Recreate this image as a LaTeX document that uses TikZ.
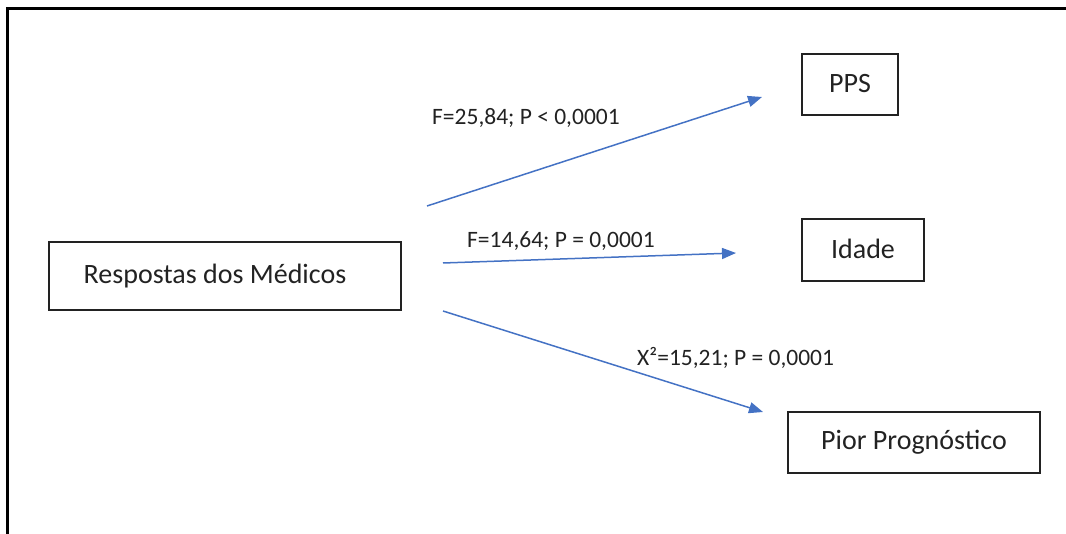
\documentclass[tikz,border=0pt]{standalone}
\usepackage{fontspec}
\setmainfont{Carlito}
\usetikzlibrary{arrows.meta}
\definecolor{arrowblue}{HTML}{4472C4}
\definecolor{inkgray}{HTML}{222222}
\begin{document}
\begin{tikzpicture}[x=1pt,y=-1pt,
  box/.style={draw=inkgray,line width=1.6pt,inner sep=0pt,text=inkgray,
    font=\fontsize{28}{30}\selectfont},
  stat/.style={anchor=base west,inner sep=0pt,text=inkgray,
    font=\fontsize{23.5}{26}\selectfont},
  link/.style={draw=arrowblue,line width=1.5pt,
    -{Triangle[length=14pt,width=11pt]}}]
\useasboundingbox (0,0) rectangle (1066,534);
% frame edges (left and top)
\draw[line width=3pt,black] (7,536) -- (7,9) -- (1068,9);

% boxes
\node[box,minimum width=352pt,minimum height=68pt] (resp) at (225,276) {\hspace*{-20pt}\raisebox{4pt}{Respostas dos Médicos}};
\node[box,minimum width=96pt,minimum height=61pt] (pps) at (850,84.5) {\raisebox{2pt}{PPS}};
\node[box,minimum width=122pt,minimum height=62pt] (idade) at (863,250) {\raisebox{2pt}{Idade}};
\node[box,minimum width=252pt,minimum height=61pt] (pior) at (914,442.5) {Pior Prognóstico};

% arrow end points
\coordinate (s1) at (427,206);
\coordinate (e1) at (762,97);
\coordinate (s2) at (443,263);
\coordinate (e2) at (736,253);
\coordinate (s3) at (443,311);
\coordinate (e3) at (763,412);

\draw[link] (s1) -- (e1);
\draw[link] (s2) -- (e2);
\draw[link] (s3) -- (e3);

% statistics
\node[stat] (l1) at (432,125) {F=25,84; P < 0,0001};
\node[stat] (l2) at (467,248) {F=14,64; P = 0,0001};
\node[stat] (l3) at (637,366) {X²=15,21; P = 0,0001};
\end{tikzpicture}
\end{document}
